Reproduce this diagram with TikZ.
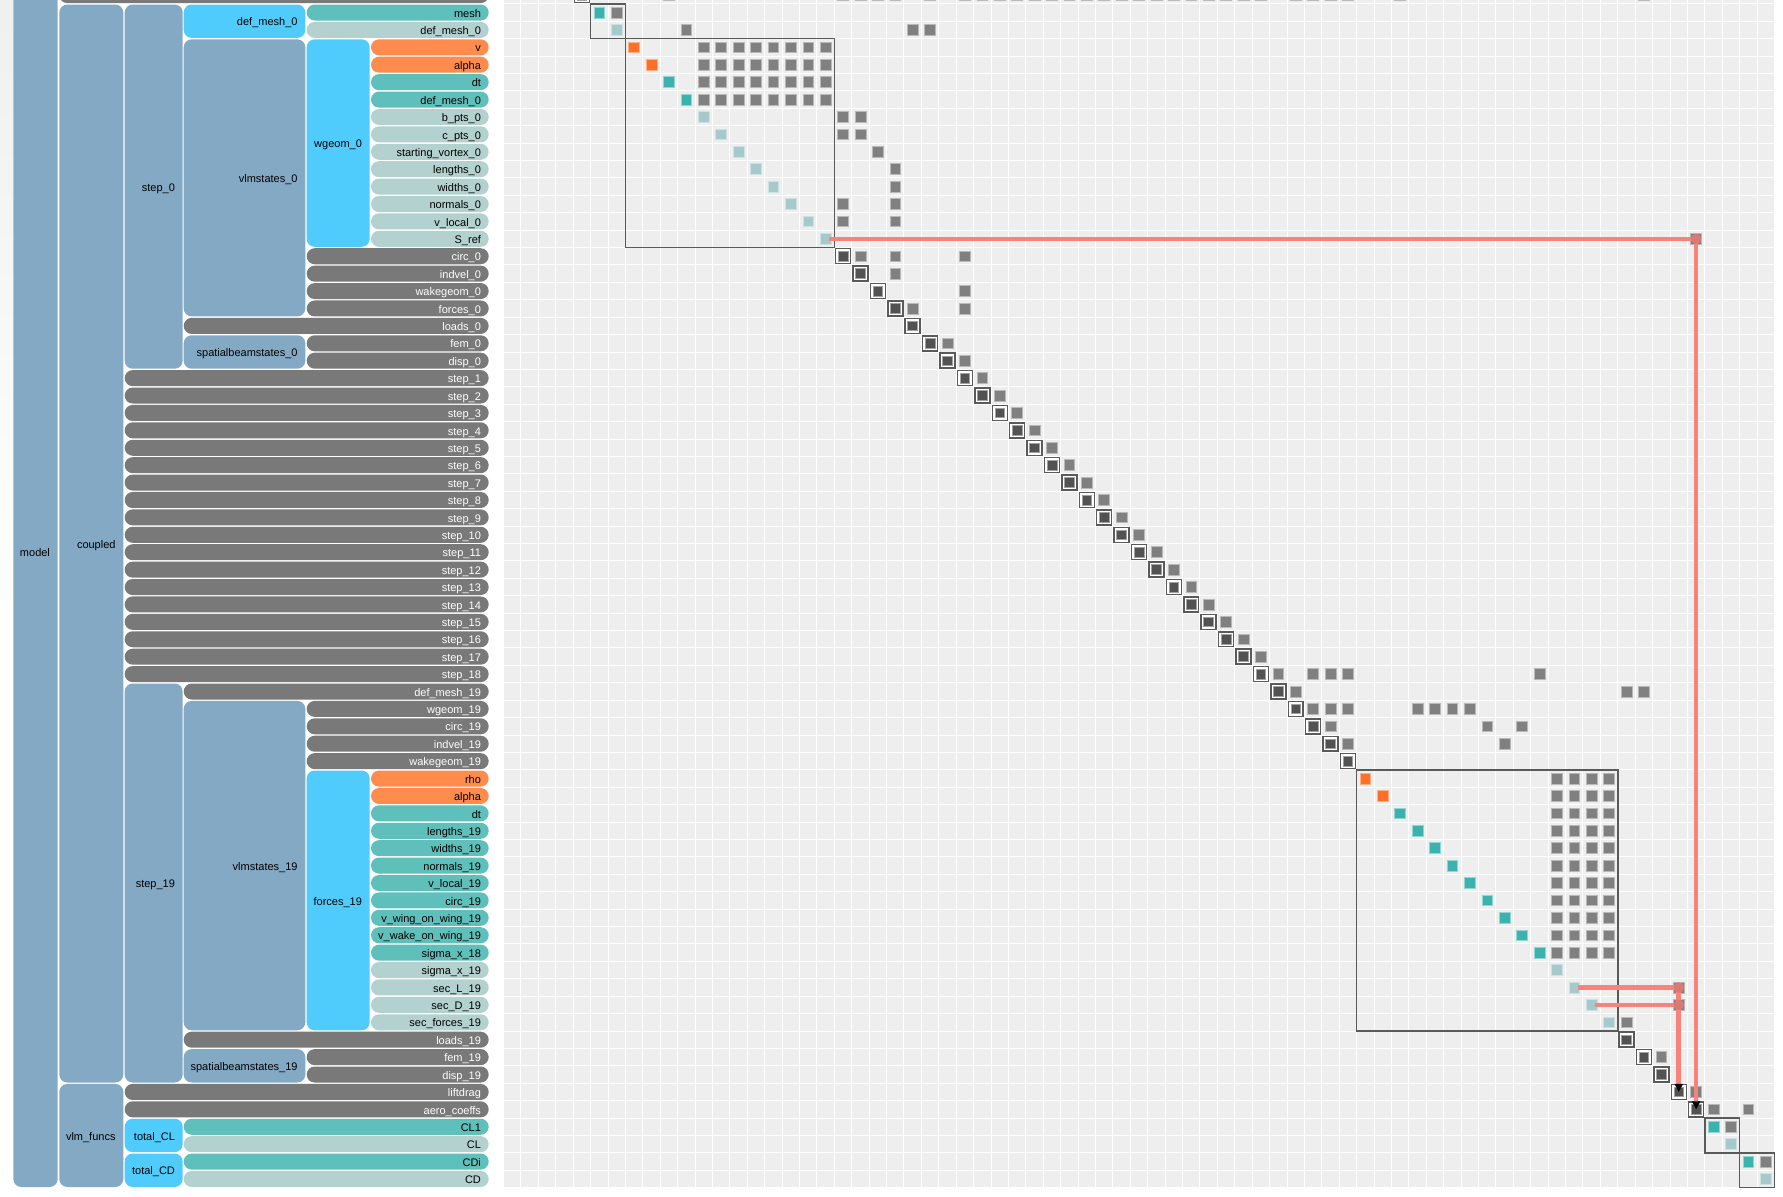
\documentclass[tikz,border=0pt]{standalone}
\usepackage{fontspec}
\setmainfont{Liberation Sans}
\usetikzlibrary{arrows.meta}
\definecolor{steel}{HTML}{84A9C5}
\definecolor{sky}{HTML}{50CCFC}
\definecolor{tealbar}{HTML}{5FBFBA}
\definecolor{lightbar}{HTML}{B3D1CF}
\definecolor{orangebar}{HTML}{FF8C4C}
\definecolor{graybar}{HTML}{797979}
\definecolor{tealsq}{HTML}{3AB3AF}
\definecolor{lightsq}{HTML}{A6C9CB}
\definecolor{orangesq}{HTML}{FF6F26}
\definecolor{graysq}{HTML}{808080}
\definecolor{darksq}{HTML}{525252}
\definecolor{gridbg}{HTML}{EEEEEE}
\definecolor{boxline}{HTML}{5A5A5A}
\definecolor{salmon}{HTML}{F9837A}
\definecolor{dotred}{HTML}{DA7B73}
% tree bar: name, x1, x2, row1, row2, fill, text colour, label
\newcommand\tbar[8]{%
  \pgfmathsetmacro\tbW{(#3-#2)*0.75}%
  \pgfmathsetmacro\tbH{((#5-#4+1)*17.41-1.4)*0.75}%
  \pgfmathsetmacro\tbY{3.8+17.41*#4+0.7}%
  \node[treebar,fill=#6,minimum width=\tbW pt,minimum height=\tbH pt] (#1) at (#2,\tbY) {};
  \node[lbl,text=#7,anchor=base east] (#1-l) at ([xshift=-5.625pt,yshift=-3.5pt]#1.east) {#8};}
\newcommand\nsq[3]{\path[#3] (#1+0.19,#2+0.19) rectangle (#1+0.81,#2+0.81);}
\newcommand\ndbox[2]{\draw[boxline,line width=1.1pt,fill=white] (#1+0.07,#2+0.07) rectangle (#1+0.93,#2+0.93);
  \path[fill=darksq,draw=darksq!55!white,line width=0.5pt] (#1+0.22,#2+0.22) rectangle (#1+0.78,#2+0.78);}
\begin{document}
\begin{tikzpicture}[x=0.75pt,y=-0.75pt,
  treebar/.style={rectangle,rounded corners=6pt,anchor=north west,inner sep=0pt,outer sep=0pt},
  lbl/.style={inner sep=0pt,font=\fontsize{8.25}{10}\selectfont},
  gsq/.style={fill=graysq,draw=graysq!55!white,line width=0.5pt},
  tsq/.style={fill=tealsq,draw=tealsq!55!white,line width=0.5pt},
  lsq/.style={fill=lightsq,draw=lightsq!55!white,line width=0.5pt},
  osq/.style={fill=orangesq,draw=orangesq!55!white,line width=0.5pt},
  grpbox/.style={draw=boxline,line width=1.1pt},
  redline/.style={draw=salmon,line width=3.4pt},
  tiphead/.style={-{Triangle[width=6pt,length=6pt,color=black]}}]
\useasboundingbox (0,0) rectangle (1783,1196);
\clip (0,0) rectangle (1783,1196);
\fill[white] (0,0) rectangle (1783,1196);
\shade[top color=black!6,bottom color=white] (0,0) rectangle (13,620);
% ---------------- tree ----------------
\tbar{model}{13.3}{57.7}{-5}{67}{steel}{black}{model}
\tbar{topbar}{59.3}{488.7}{-1}{-1}{graybar}{white}{}
\tbar{coupled}{59.3}{123.3}{0}{61}{steel}{black}{coupled}
\tbar{vlmfuncs}{59.3}{123.3}{62}{67}{steel}{black}{vlm\_funcs}
\tbar{step0}{124.7}{182.7}{0}{20}{steel}{black}{step\_0}
\tbar{defmeshg}{183.7}{305.3}{0}{1}{sky}{black}{def\_mesh\_0}
\tbar{mesh}{306.7}{488.7}{0}{0}{tealbar}{black}{mesh}
\tbar{defmesho}{306.7}{488.7}{1}{1}{lightbar}{black}{def\_mesh\_0}
\tbar{vlmstates0}{183.7}{305.3}{2}{17}{steel}{black}{vlmstates\_0}
\tbar{wgeom0}{306.7}{369.7}{2}{13}{sky}{black}{wgeom\_0}
\tbar{v0}{371}{488.7}{2}{2}{orangebar}{black}{v}
\tbar{alpha0}{371}{488.7}{3}{3}{orangebar}{black}{alpha}
\tbar{dt0}{371}{488.7}{4}{4}{tealbar}{black}{dt}
\tbar{defmeshi}{371}{488.7}{5}{5}{tealbar}{black}{def\_mesh\_0}
\tbar{bpts0}{371}{488.7}{6}{6}{lightbar}{black}{b\_pts\_0}
\tbar{cpts0}{371}{488.7}{7}{7}{lightbar}{black}{c\_pts\_0}
\tbar{svortex0}{371}{488.7}{8}{8}{lightbar}{black}{starting\_vortex\_0}
\tbar{lengths0}{371}{488.7}{9}{9}{lightbar}{black}{lengths\_0}
\tbar{widths0}{371}{488.7}{10}{10}{lightbar}{black}{widths\_0}
\tbar{normals0}{371}{488.7}{11}{11}{lightbar}{black}{normals\_0}
\tbar{vlocal0}{371}{488.7}{12}{12}{lightbar}{black}{v\_local\_0}
\tbar{sref}{371}{488.7}{13}{13}{lightbar}{black}{S\_ref}
\tbar{circ0}{306.7}{488.7}{14}{14}{graybar}{white}{circ\_0}
\tbar{indvel0}{306.7}{488.7}{15}{15}{graybar}{white}{indvel\_0}
\tbar{wakegeom0}{306.7}{488.7}{16}{16}{graybar}{white}{wakegeom\_0}
\tbar{forces0}{306.7}{488.7}{17}{17}{graybar}{white}{forces\_0}
\tbar{loads0}{183.7}{488.7}{18}{18}{graybar}{white}{loads\_0}
\tbar{sbs0}{183.7}{305.3}{19}{20}{steel}{black}{spatialbeamstates\_0}
\tbar{fem0}{306.7}{488.7}{19}{19}{graybar}{white}{fem\_0}
\tbar{disp0}{306.7}{488.7}{20}{20}{graybar}{white}{disp\_0}
\foreach \k in {1,...,18} {\pgfmathtruncatemacro\rr{20+\k}
  \tbar{step\k}{124.7}{488.7}{\rr}{\rr}{graybar}{white}{step\_\k}}
\tbar{step19}{124.7}{182.7}{39}{61}{steel}{black}{step\_19}
\tbar{defmesh19}{183.7}{488.7}{39}{39}{graybar}{white}{def\_mesh\_19}
\tbar{vlmstates19}{183.7}{305.3}{40}{58}{steel}{black}{vlmstates\_19}
\tbar{wgeom19}{306.7}{488.7}{40}{40}{graybar}{white}{wgeom\_19}
\tbar{circg19}{306.7}{488.7}{41}{41}{graybar}{white}{circ\_19}
\tbar{indvel19}{306.7}{488.7}{42}{42}{graybar}{white}{indvel\_19}
\tbar{wakegeom19}{306.7}{488.7}{43}{43}{graybar}{white}{wakegeom\_19}
\tbar{forces19}{306.7}{369.7}{44}{58}{sky}{black}{forces\_19}
\tbar{rho19}{371}{488.7}{44}{44}{orangebar}{black}{rho}
\tbar{alpha19}{371}{488.7}{45}{45}{orangebar}{black}{alpha}
\tbar{dt19}{371}{488.7}{46}{46}{tealbar}{black}{dt}
\tbar{lengths19}{371}{488.7}{47}{47}{tealbar}{black}{lengths\_19}
\tbar{widths19}{371}{488.7}{48}{48}{tealbar}{black}{widths\_19}
\tbar{normals19}{371}{488.7}{49}{49}{tealbar}{black}{normals\_19}
\tbar{vlocal19}{371}{488.7}{50}{50}{tealbar}{black}{v\_local\_19}
\tbar{circ19}{371}{488.7}{51}{51}{tealbar}{black}{circ\_19}
\tbar{vwing19}{371}{488.7}{52}{52}{tealbar}{black}{v\_wing\_on\_wing\_19}
\tbar{vwake19}{371}{488.7}{53}{53}{tealbar}{black}{v\_wake\_on\_wing\_19}
\tbar{sigma18}{371}{488.7}{54}{54}{tealbar}{black}{sigma\_x\_18}
\tbar{sigma19}{371}{488.7}{55}{55}{lightbar}{black}{sigma\_x\_19}
\tbar{secL19}{371}{488.7}{56}{56}{lightbar}{black}{sec\_L\_19}
\tbar{secD19}{371}{488.7}{57}{57}{lightbar}{black}{sec\_D\_19}
\tbar{secF19}{371}{488.7}{58}{58}{lightbar}{black}{sec\_forces\_19}
\tbar{loads19}{183.7}{488.7}{59}{59}{graybar}{white}{loads\_19}
\tbar{sbs19}{183.7}{305.3}{60}{61}{steel}{black}{spatialbeamstates\_19}
\tbar{fem19}{306.7}{488.7}{60}{60}{graybar}{white}{fem\_19}
\tbar{disp19}{306.7}{488.7}{61}{61}{graybar}{white}{disp\_19}
\tbar{liftdrag}{124.7}{488.7}{62}{62}{graybar}{white}{liftdrag}
\tbar{aerocoeffs}{124.7}{488.7}{63}{63}{graybar}{white}{aero\_coeffs}
\tbar{totalCL}{124.7}{182.7}{64}{65}{sky}{black}{total\_CL}
\tbar{CLone}{183.7}{488.7}{64}{64}{tealbar}{black}{CL1}
\tbar{CL}{183.7}{488.7}{65}{65}{lightbar}{black}{CL}
\tbar{totalCD}{124.7}{182.7}{66}{67}{sky}{black}{total\_CD}
\tbar{CDi}{183.7}{488.7}{66}{66}{tealbar}{black}{CDi}
\tbar{CD}{183.7}{488.7}{67}{67}{lightbar}{black}{CD}
% ---------------- matrix ----------------
\begin{scope}[shift={(442.95pt,-2.85pt)},x=13.0575pt,y=-13.0575pt]
\fill[gridbg] (-5,-5) rectangle (68,68);
\foreach \i in {-5,...,68} {
  \draw[white,line width=0.75pt] (\i,-5) -- (\i,68);
  \draw[white,line width=0.75pt] (-5,\i) -- (68,\i);}
% collapsed diagonal cells
\ndbox{-1}{-1}
\foreach \i in {14,...,43} {\ndbox{\i}{\i}}
\foreach \i in {59,...,63} {\ndbox{\i}{\i}}
% variable diagonal cells
\nsq{0}{0}{tsq} \nsq{1}{1}{lsq} \nsq{2}{2}{osq} \nsq{3}{3}{osq}
\nsq{4}{4}{tsq} \nsq{5}{5}{tsq}
\foreach \i in {6,...,13} {\nsq{\i}{\i}{lsq}}
\nsq{44}{44}{osq} \nsq{45}{45}{osq}
\foreach \i in {46,...,54} {\nsq{\i}{\i}{tsq}}
\foreach \i in {55,...,58} {\nsq{\i}{\i}{lsq}}
\nsq{64}{64}{tsq} \nsq{65}{65}{lsq} \nsq{66}{66}{tsq} \nsq{67}{67}{lsq}
% off-diagonal cells
\foreach \c in {4,14,15,16,17,19,40,41,42,43,46,60} {\nsq{\c}{-1}{gsq}}
\foreach \c in {21,...,38} {\nsq{\c}{-1}{gsq}}
\nsq{1}{0}{gsq}
\foreach \c in {5,18,19} {\nsq{\c}{1}{gsq}}
\foreach \r in {2,...,5} {\foreach \c in {6,...,13} {\nsq{\c}{\r}{gsq}}}
\foreach \c in {14,15} {\nsq{\c}{6}{gsq} \nsq{\c}{7}{gsq}}
\nsq{16}{8}{gsq} \nsq{17}{9}{gsq} \nsq{17}{10}{gsq}
\foreach \c in {14,17} {\nsq{\c}{11}{gsq} \nsq{\c}{12}{gsq}}
\nsq{63}{13}{gsq}
\foreach \c in {15,17,21} {\nsq{\c}{14}{gsq}}
\nsq{17}{15}{gsq} \nsq{21}{16}{gsq} \nsq{18}{17}{gsq} \nsq{21}{17}{gsq}
\nsq{20}{19}{gsq} \nsq{21}{20}{gsq}
\foreach \r in {21,...,37} {\pgfmathtruncatemacro\cc{\r+1}\nsq{\cc}{\r}{gsq}}
\foreach \c in {39,41,42,43,54} {\nsq{\c}{38}{gsq}}
\foreach \c in {40,59,60} {\nsq{\c}{39}{gsq}}
\foreach \c in {41,42,43,47,48,49,50} {\nsq{\c}{40}{gsq}}
\foreach \c in {42,51,53} {\nsq{\c}{41}{gsq}}
\nsq{43}{42}{gsq} \nsq{52}{42}{gsq}
\foreach \r in {44,...,54} {\foreach \c in {55,...,58} {\nsq{\c}{\r}{gsq}}}
\nsq{62}{56}{gsq} \nsq{62}{57}{gsq} \nsq{59}{58}{gsq}
\nsq{61}{60}{gsq} \nsq{63}{62}{gsq} \nsq{64}{63}{gsq} \nsq{66}{63}{gsq}
\nsq{65}{64}{gsq} \nsq{67}{66}{gsq}
% group outlines
\draw[grpbox] (0,0) rectangle (2,2);
\draw[grpbox] (2,2) rectangle (14,14);
\draw[grpbox] (44,44) rectangle (59,59);
\draw[grpbox] (64,64) rectangle (66,66);
\draw[grpbox] (66,66) rectangle (68,68);
% connection highlights
\coordinate (srcSref) at (13.7,13.5);
\coordinate (hitSref) at (63.5,13.5);
\coordinate (diagAero) at (63.5,63.5);
\coordinate (srcSecL) at (56.7,56.5);
\coordinate (hitSecL) at (62.5,56.5);
\coordinate (srcSecD) at (57.7,57.5);
\coordinate (hitSecD) at (62.5,57.5);
\coordinate (diagLift) at (62.5,62.5);
\draw[redline] (srcSref) -- (hitSref);
\draw[redline] (srcSecL) -- (hitSecL);
\draw[redline] (srcSecD) -- (hitSecD);
\draw[redline,tiphead] (hitSref) -- (diagAero);
\draw[redline,tiphead] (hitSecL) -- (diagLift);
\fill[dotred] (hitSref) circle (0.3);
\fill[dotred] (hitSecL) circle (0.3);
\fill[dotred] (hitSecD) circle (0.3);
\end{scope}
\end{tikzpicture}
\end{document}
